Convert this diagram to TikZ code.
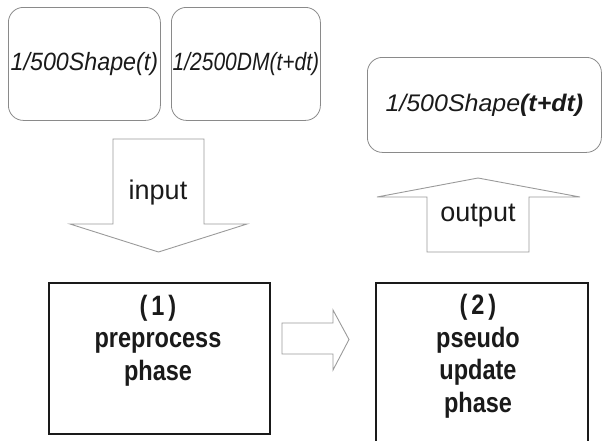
\documentclass[tikz,border=0pt]{standalone}
\usepackage{fontspec}
\usepackage{graphicx}
\setmainfont{Liberation Sans}
\definecolor{boxgray}{HTML}{8A8A8A}
\definecolor{arrowgray}{HTML}{9A9A9A}
\definecolor{ink}{HTML}{1A1A1A}
% horizontally condensed, centred stack of lines
\newcommand\narrowlines[2]{\scalebox{#1}[1]{\begin{tabular}{@{}c@{}}#2\end{tabular}}}
\begin{document}
\begin{tikzpicture}[x=1pt,y=-1pt,
  softbox/.style={draw=boxgray, line width=0.8pt, rounded corners=15pt,
    inner sep=0pt, anchor=north west, text=ink},
  phasebox/.style={draw=ink, line width=1.6pt, inner sep=0pt, anchor=north west},
  phasetext/.style={font=\bfseries\fontsize{28}{32.5}\selectfont,
    text=ink, inner sep=0pt},
  blockarrow/.style={draw=arrowgray, line width=0.9pt, line join=miter},
  arrowtext/.style={font=\fontsize{27}{30}\selectfont, text=ink, inner sep=0pt}]
  \useasboundingbox (0,0) rectangle (603,440);

  % data boxes
  \node[softbox, minimum width=152pt, minimum height=113pt,
        font=\itshape\fontsize{25}{28}\selectfont] (shapeT) at (8,7)
        {\scalebox{0.93}[1]{1/500Shape(t)}};
  \node[softbox, minimum width=149pt, minimum height=113pt,
        font=\itshape\fontsize{25}{28}\selectfont] (dmT) at (171,7)
        {\scalebox{0.84}[1]{1/2500DM(t+dt)}};
  \node[softbox, minimum width=234pt, minimum height=95pt,
        font=\itshape\fontsize{24}{28}\selectfont] (shapeNext) at (367,57)
        {\scalebox{1.04}[1]{1/500Shape\textbf{(t+dt)}}};

  % input arrow
  \draw[blockarrow] (113,139) -- (204,139) -- (204,224) -- (247,224) -- (158.5,252)
        -- (70,224) -- (113,224) -- cycle;
  \node[arrowtext] (inLabel) at (158,193) {input};

  % output arrow
  \draw[blockarrow] (427,252) -- (427,197) -- (377,197) -- (478,178) -- (580,197)
        -- (529,197) -- (529,252) -- cycle;
  \node[arrowtext] (outLabel) at (478,216) {output};

  % phase boxes
  \node[phasebox, minimum width=221pt, minimum height=151pt] (pre) at (48,282) {};
  \node[phasetext] (preText) at (158,341)
        {\narrowlines{0.84}{(\,1\,)\\preprocess\\phase}};
  \node[phasebox, minimum width=212pt, minimum height=162pt] (upd) at (375,282) {};
  \node[phasetext] (updText) at (478,357)
        {\narrowlines{0.84}{(\,2\,)\\pseudo\\update\\phase}};

  % arrow between phases
  \draw[blockarrow] (282,323) -- (333,323) -- (333,310) -- (349,339.5) -- (333,370)
        -- (333,354) -- (282,354) -- cycle;
\end{tikzpicture}
\end{document}
